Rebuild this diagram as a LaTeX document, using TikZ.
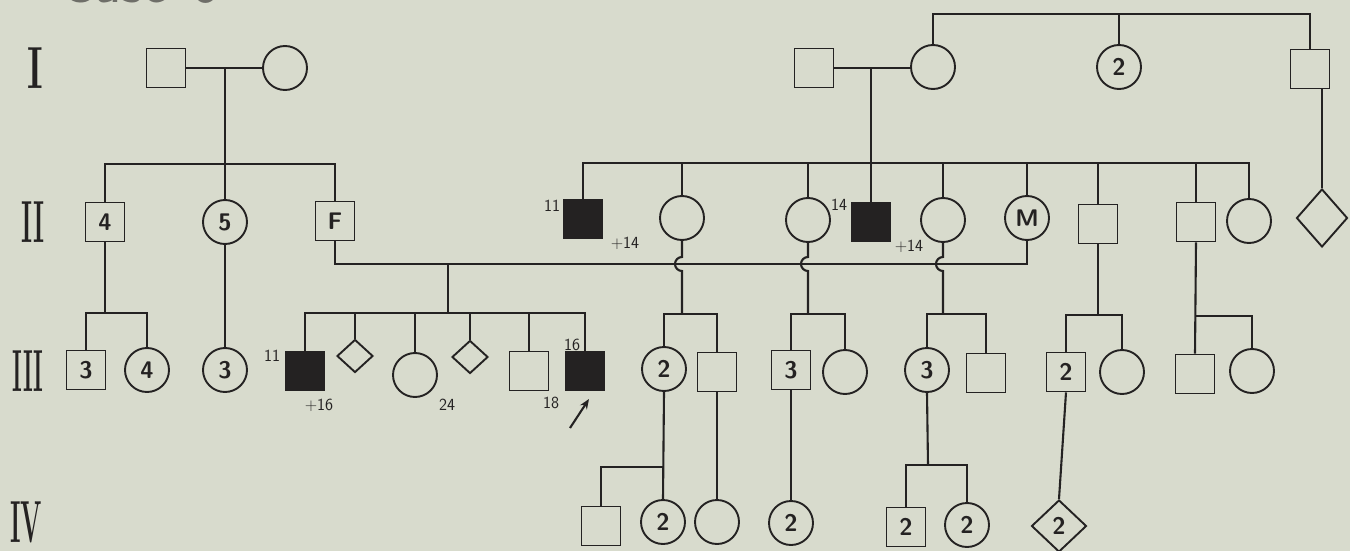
\documentclass[tikz,border=0pt]{standalone}
\usepackage{fontspec}
\usepackage{tikz}
\usetikzlibrary{arrows.meta, positioning, calc, shapes.geometric}
\definecolor{paper}{RGB}{216,219,205}
\definecolor{ink}{RGB}{36,34,34}
\definecolor{titlegray}{RGB}{110,110,104}
\tikzset{
    person/.style={draw=ink, line width=1.9pt, inner sep=0pt, text=ink, font=\fontsize{24}{24}\selectfont\sffamily\bfseries},
    male/.style={person, rectangle, minimum size=39pt},
    female/.style={person, circle, minimum size=44pt},
    unknown/.style={person, diamond, minimum width=36pt, minimum height=33pt},
    affected/.style={male, fill=ink},
    gen/.style={font=\fontsize{44}{44}\selectfont\bfseries, text=ink, inner sep=0pt},
    note/.style={font=\fontsize{17}{17}\selectfont\sffamily, text=ink, inner sep=0pt},
    title/.style={font=\fontsize{60}{60}\selectfont\sffamily, text=titlegray, inner sep=0pt},
    line/.style={draw=ink, line width=2.1pt}
}

\begin{document}
\begin{tikzpicture}[x=1pt, y=-1pt]
    \fill[paper] (0,0) rectangle (1350,551);
    \useasboundingbox (0,0) rectangle (1350,551);
    \node[title, anchor=base west] (title) at (58,3) {Case\hspace{0.45em}9};

    % generation numbers
    \foreach \g/\lab/\x/\y/\sc in {gI/I/35/68/0.85, gII/II/33/222/0.6, gIII/III/28/371/0.53, gIV/IV/26/522/0.57}
        \node[gen] (\g) at (\x,\y) {\scalebox{\sc}[1.35]{\lab}};

    % generation I
    \foreach \n/\x/\y/\s/\t in {I1/166/68/male/, I2/285/68/female/, I3/814/68/male/, I4/933/67/female/, I5/1119/67/female/2, I6/1310/69/male/}
        \node[\s] (\n) at (\x,\y) {\t};

    % generation II
    \foreach \n/\x/\y/\s/\t in {II1/105/222/male/4, II2/225/222/female/5, II3/335/221/male/F,
        II4/583/219/affected/, II5/682/218/female/, II6/808/220/female/, II7/871/222/affected/,
        II8/943/220/female/, II9/1027/218/female/M, II10/1098/224/male/, II11/1196/222/male/, II12/1249/221/female/}
        \node[\s] (\n) at (\x,\y) {\t};
    \node[unknown, minimum width=51pt, minimum height=58pt] (II13) at (1322,218) {};

    % generation III
    \foreach \n/\x/\y/\s/\t in {III1/86/370/male/3, III2/147/370/female/4, III3/225/370/female/3,
        III4/305/371/affected/, III6/415/375/female/, III8/529/371/male/, III9/585/371/affected/,
        III10/664/369/female/2, III11/717/372/male/, III12/791/370/male/3, III13/845/372/female/,
        III14/927/370/female/3, III15/986/373/male/, III16/1066/372/male/2, III17/1122/372/female/,
        III18/1195/374/male/, III19/1252/371/female/}
        \node[\s] (\n) at (\x,\y) {\t};
    \node[unknown] (III5) at (355,356) {};
    \node[unknown] (III7) at (470,357) {};

    % generation IV
    \foreach \n/\x/\y/\s/\t in {IV1/601/526/male/, IV2/663/522/female/2, IV3/717/522/female/,
        IV4/791/523/female/2, IV5/906/527/male/2, IV6/967/525/female/2}
        \node[\s] (\n) at (\x,\y) {\t};
    \node[unknown, minimum width=55pt, minimum height=52pt] (IV7) at (1059,526) {2};

    % ages
    \node[note] (a1) at (552,206) {11};
    \node[note] (a2) at (625,243) {+14};
    \node[note] (a3) at (839,205) {14};
    \node[note] (a4) at (909,246) {+14};
    \node[note] (a5) at (272,356) {11};
    \node[note] (a6) at (319,405) {+16};
    \node[note] (a7) at (447,405) {24};
    \node[note] (a8) at (551,403) {18};
    \node[note] (a9) at (572,345) {16};

    % helper points
    \coordinate (s0) at (1119,14);
    \coordinate (s1) at (225,164);
    \coordinate (s2) at (871,163);
    \coordinate (fm) at (448,264);
    \coordinate (s3) at (448,313);
    \coordinate (hp) at (0,257);
    \coordinate (s4) at (682,314);
    \coordinate (s5) at (808,314);
    \coordinate (s6) at (943,314);
    \coordinate (s7) at (1098,315);
    \coordinate (s8) at (1196,316);
    \coordinate (s9) at (105,313);
    \coordinate (s10) at (663,467);
    \coordinate (s11) at (928,465);
    \coordinate (pb) at (570,428);

    % left family
    \draw[line] (I1) -- (I2);
    \draw[line] (s1 |- I1) -- (s1);
    \draw[line] (II1.north) |- (s1) -| (II3.north);
    \draw[line] (s1) -- (II2.north);
    \draw[line] (II1.south) -- (s9);
    \draw[line] (III1.north) |- (s9) -| (III2.north);
    \draw[line] (II2.south) -- (III3.north);

    % right family
    \draw[line] (I4.north) |- (s0) -| (I6.north);
    \draw[line] (s0) -- (I5.north);
    \draw[line] (I3) -- (I3 -| I4.west);
    \draw[line] (s2 |- I3) -- (s2);
    \draw[line] (II4.north) |- (s2) -| (II12.north);
    \foreach \n in {II5,II6,II7,II8,II9,II10,II11}
        \draw[line] (\n.north) -- (\n |- s2);
    \draw[line] (I6.south -| II13.north) -- (II13.north);

    % F x M and their children
    \draw[line] (II3.south) |- (fm) -| (II9.south);
    \draw[line] (fm) -- (s3);
    \draw[line] (III4.north) |- (s3) -| (III9.north);
    \foreach \n in {III5,III6,III7,III8}
        \draw[line] (\n.north) -- (\n |- s3);
    \draw[-{Stealth[length=10pt, width=8pt]}, line] (pb) -- ++(19,-29);

    % daughters crossing the marriage line
    \foreach \n/\s in {II5/s4, II6/s5, II8/s6}
        \draw[line] (\n.south) -- (\n |- hp) arc[start angle=270, end angle=90, radius=7] -- (\s);
    \draw[line] (III10.north) |- (s4) -| (III11.north);
    \draw[line] (III12.north) |- (s5) -| (III13.north);
    \draw[line] (III14.north) |- (s6) -| (III15.north);
    \draw[line] (II10.south) -- (s7);
    \draw[line] (III16.north) |- (s7) -| (III17.north);
    \draw[line] (II11.south) -- (III18.north);
    \draw[line] (s8) -| (III19.north);

    % generation IV lines
    \draw[line] (III10.south) -- (IV2.north);
    \draw[line] (s10) -| (IV1.north);
    \draw[line] (III11.south) -- (IV3.north);
    \draw[line] (III12.south) -- (IV4.north);
    \draw[line] (III14.south) -- (s11);
    \draw[line] (IV5.north) |- (s11) -| (IV6.north);
    \draw[line] (III16.south) -- (IV7.north);
\end{tikzpicture}
\end{document}
